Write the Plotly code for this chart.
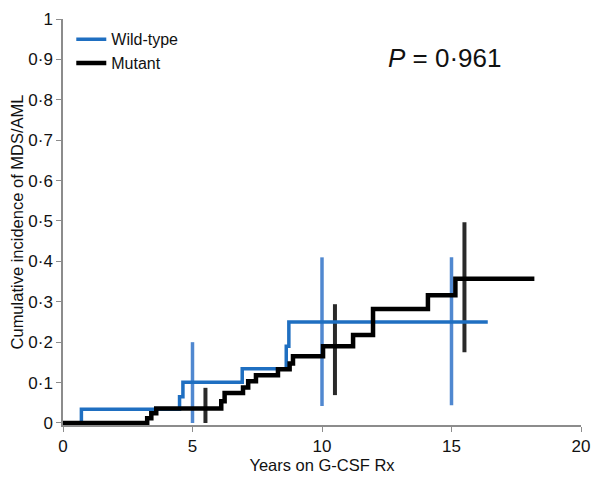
import plotly.graph_objects as go

# step curves (time in years, cumulative incidence)
wt_x = [0, 0.71, 4.5, 4.63, 6.92, 8.62, 8.72, 16.4]
wt_y = [0, 0.034, 0.065, 0.101, 0.134, 0.19, 0.25, 0.25]

mut_x = [0, 3.25, 3.41, 3.6, 6.11, 6.24, 6.95, 7.15, 7.45, 8.3, 8.75, 8.88,
         10.04, 11.2, 11.97, 14.09, 15.15, 18.2]
mut_y = [0, 0.012, 0.024, 0.036, 0.054, 0.074, 0.088, 0.103, 0.118, 0.133, 0.147, 0.165,
         0.19, 0.218, 0.282, 0.316, 0.357, 0.357]

# confidence intervals
wt_ci_x = [5, 10, 15]
wt_ci_lo = [0, 0.042, 0.044]
wt_ci_hi = [0.2, 0.41, 0.41]

mut_ci_x = [5.5, 10.5, 15.5]
mut_ci_lo = [0, 0.069, 0.175]
mut_ci_hi = [0.087, 0.294, 0.497]

y_ticks = [0, 0.1, 0.2, 0.3, 0.4, 0.5, 0.6, 0.7, 0.8, 0.9, 1]
y_labels = ["0", "0·1", "0·2", "0·3", "0·4", "0·5", "0·6", "0·7", "0·8", "0·9", "1"]
x_ticks = [0, 5, 10, 15, 20]

BLUE = "#1f6fc1"
BLUE_CI = "#5088d0"
BLACK = "#000000"
BLACK_CI = "#2a2a2a"
FONT = "Liberation Sans, Arial, sans-serif"
TXT = "#111111"


def segs(xs, lo, hi):
    px, py = [], []
    for x, a, b in zip(xs, lo, hi):
        px += [x, x, None]
        py += [a, b, None]
    return px, py


fig = go.Figure()
cx, cy = segs(wt_ci_x, wt_ci_lo, wt_ci_hi)
fig.add_trace(go.Scatter(x=cx, y=cy, mode="lines", line=dict(color=BLUE_CI, width=3.5),
                         showlegend=False, hoverinfo="skip"))
cx, cy = segs(mut_ci_x, mut_ci_lo, mut_ci_hi)
fig.add_trace(go.Scatter(x=cx, y=cy, mode="lines", line=dict(color=BLACK_CI, width=4),
                         showlegend=False, hoverinfo="skip"))
fig.add_trace(go.Scatter(x=wt_x, y=wt_y, mode="lines", line_shape="hv", name="Wild-type",
                         line=dict(color=BLUE, width=3.5)))
fig.add_trace(go.Scatter(x=mut_x, y=mut_y, mode="lines", line_shape="hv", name="Mutant",
                         line=dict(color=BLACK, width=4.5)))

fig.add_annotation(xref="paper", yref="paper", x=0.737, y=0.905, xanchor="center", yanchor="middle",
                   text="<i>P</i> = 0·961", showarrow=False,
                   font=dict(size=26, color=TXT, family=FONT))

axis_common = dict(showline=True, linecolor="#8c8c8c", linewidth=1.5, ticks="outside",
                   tickcolor="#8c8c8c", ticklen=5, showgrid=False, zeroline=False,
                   automargin=False, ticklabeloverflow="allow",
                   tickfont=dict(size=17, color=TXT, family=FONT))

fig.update_xaxes(range=[0, 20], tickvals=x_ticks, **axis_common,
                 title=dict(text="Years on G-CSF Rx", font=dict(size=16.5, color=TXT, family=FONT),
                            standoff=3))
fig.update_yaxes(range=[-0.005, 1], tickvals=y_ticks, ticktext=y_labels, **axis_common,
                 title=dict(text="Cumulative incidence of MDS/AML",
                            font=dict(size=16.5, color=TXT, family=FONT), standoff=14))

# page body has an 8px margin, so the figure is a little smaller than the window
fig.update_layout(width=592, height=470, margin=dict(l=55, r=19, t=11, b=53),
                  paper_bgcolor="white", plot_bgcolor="white",
                  font=dict(family=FONT, color=TXT),
                  legend=dict(x=0.016, y=0.992, xanchor="left", yanchor="top",
                              font=dict(size=16, color=TXT, family=FONT),
                              bgcolor="rgba(0,0,0,0)", tracegroupgap=0, itemwidth=30))
fig.write_html("out.html")
